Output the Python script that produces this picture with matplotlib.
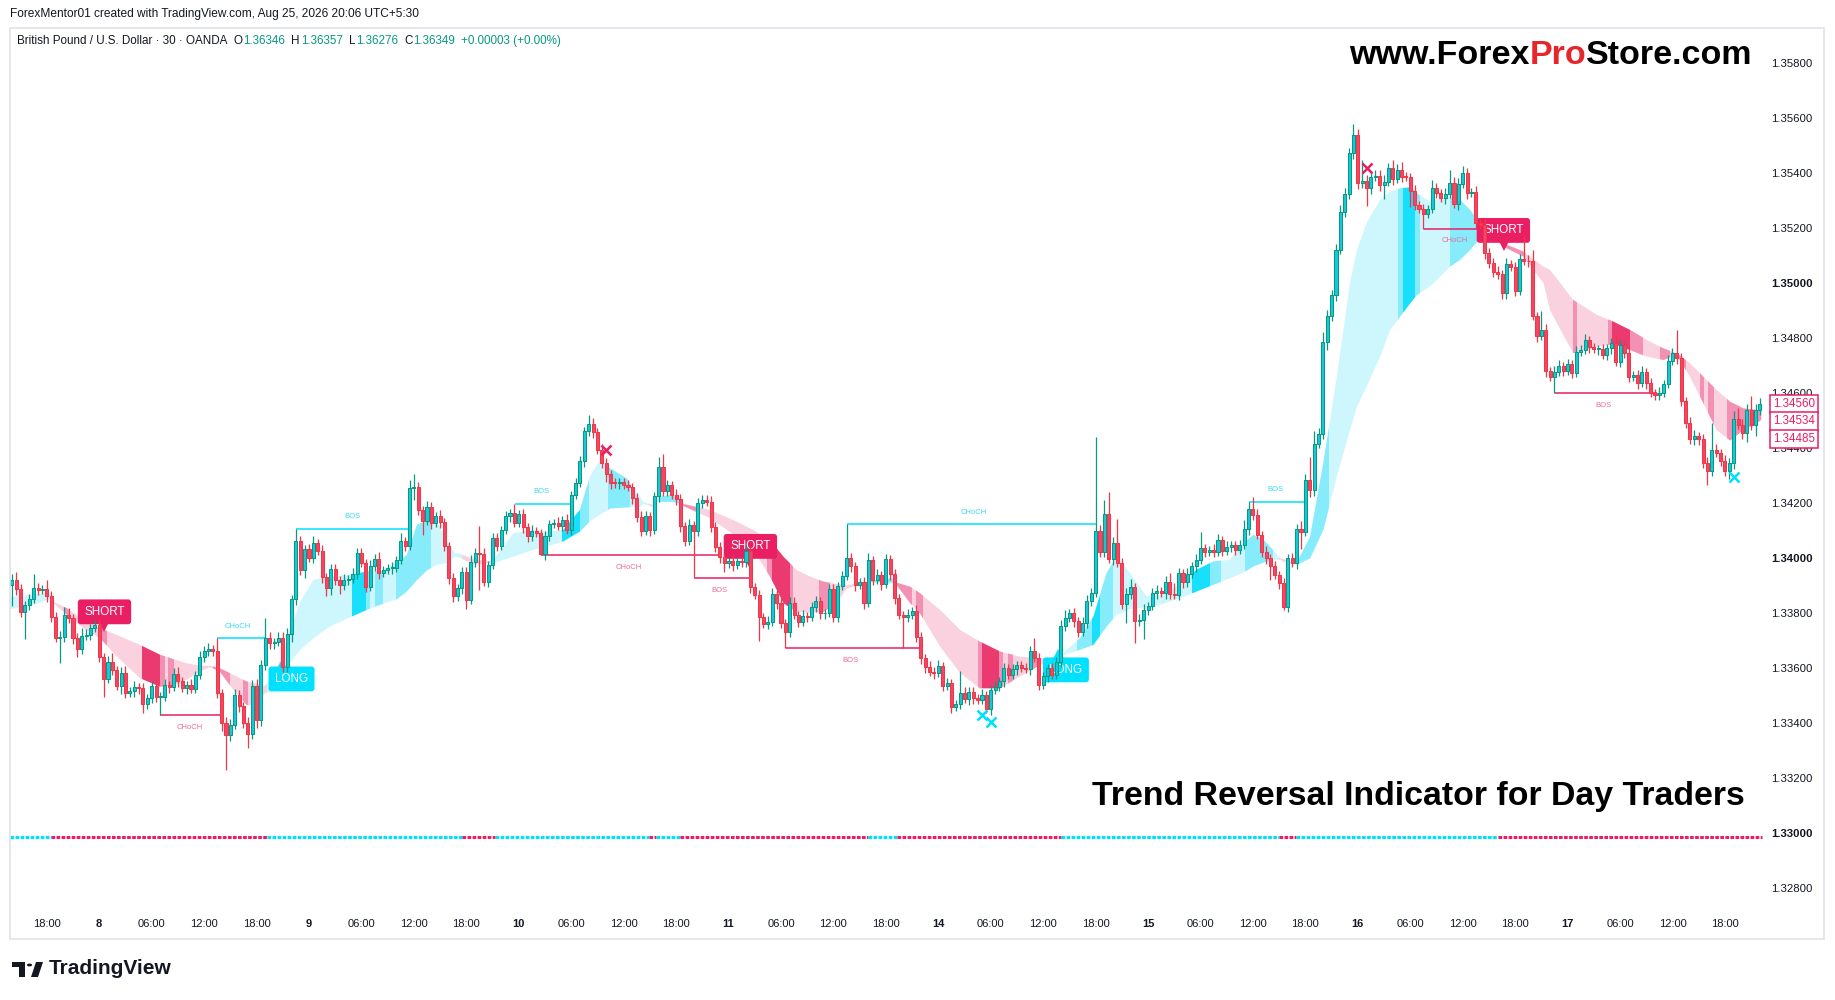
import numpy as np
import matplotlib
matplotlib.use("Agg")
import matplotlib.pyplot as plt
from matplotlib.patches import Rectangle, Polygon, Circle

plt.rcParams['font.family'] = ['Liberation Sans', 'DejaVu Sans']

W, H = 1835, 1000
BASE = 1.33          # all prices below are pips above this level
FIRST_BAR = -8       # bar index of first candle (0 = first "18:00" label)
first_open = 90.2

# 30 min candles, closes in pips over 1.33000
closes = [92, 88.6, 80.5, 83, 85, 89, 88.4, 88.8, 86, 78.7, 70.8, 71.4, 79.3, 78, 70.8, 67, 71.6, 72, 74.4, 75.5,
          64, 56, 62.3, 59.3, 53.5, 58.3, 51, 51.5, 53.2, 52.6, 47, 48.9, 53.4, 49.6, 49.6, 53.9, 53, 57.8, 55.2, 52.6,
          53.9, 52.5, 57.3, 64.1, 66, 67, 66.3, 51, 40, 35.6, 39.3, 50, 46, 40, 36, 53.5, 41, 60.9, 71, 69,
          69.5, 71, 60.5, 72.4, 85, 106, 95.7, 103.2, 100, 105.4, 102.7, 93, 89, 95.9, 92, 90, 92, 92.3, 94.2, 101.7,
          98.1, 89.6, 97.1, 99.6, 94.5, 95.7, 96.3, 96.5, 99.3, 106, 104.5, 125.4, 125.7, 117.5, 113.3, 118.7, 112.7, 115.3, 112.9, 104.2,
          92.7, 86, 89, 94.8, 84.8, 98.7, 101.7, 101.5, 91.4, 97.5, 107.2, 104.5, 110.2, 115.1, 116.3, 112.7, 115.9, 111.2, 107.8, 109.9,
          109, 101.4, 107.8, 112.4, 112.8, 111.7, 113.9, 110.2, 123, 127.2, 135.1, 146, 148.8, 145.7, 139.3, 134.7, 130.6, 127.2, 127.1, 127.7,
          126.5, 125.7, 121.7, 115, 109.9, 115.2, 110.1, 122.5, 132.9, 124.4, 126.5, 122.9, 121.3, 111.6, 106.3, 112, 109.9, 119.8, 121, 120.4,
          111.4, 103.8, 100.2, 98, 99, 97.4, 98.8, 98.6, 102.6, 89.3, 86.5, 78.6, 76, 76.8, 86.9, 83.5, 76.2, 73.2, 83.7, 79.2,
          76.8, 79, 78.6, 82, 84.3, 79.8, 80.1, 88.6, 78.6, 89.8, 93.4, 99.8, 97, 90.1, 91.1, 83.5, 99.2, 92, 93.8, 90.5,
          99.5, 94.1, 85.3, 79.2, 78.6, 79.4, 80.8, 71.4, 63.5, 60.5, 58.7, 58.1, 60.8, 53.5, 54.5, 45.7, 46.9, 51, 48.6, 51.4,
          49, 48.4, 50.2, 45, 52, 53.2, 55.1, 59.9, 57.5, 59.5, 61.1, 59.9, 59.6, 66.3, 63.5, 53.8, 56.9, 59.9, 57.5, 62,
          75.3, 78.1, 79.9, 76.9, 73.2, 76.5, 84.5, 87.4, 109.8, 102.3, 116, 99.5, 105.6, 98.1, 83.3, 86.9, 89.4, 76.9, 77.6, 81.1,
          82.6, 87.2, 88.1, 87.2, 91.4, 86.9, 86.6, 94.4, 91.1, 94.2, 96.9, 99.3, 103.5, 102.3, 102.9, 102.3, 106.6, 102.7, 104.1, 104.7,
          102.9, 104.7, 110.4, 117.7, 115.7, 108.4, 102.3, 99.9, 96.9, 93.8, 90.8, 82.3, 99.9, 98.1, 110.4, 109.6, 128.4, 124.7, 141.5, 145.1,
          178.7, 188, 195.6, 212, 225.9, 232.4, 247.1, 253.8, 236.2, 237.1, 234.4, 238.4, 238.9, 235.6, 236.8, 241.7, 237.7, 241.1, 238.7, 238.4,
          233.6, 228.4, 226.8, 225.1, 226.8, 234.4, 232.8, 230.8, 232.4, 236.5, 228.7, 236, 239.9, 232.6, 233.2, 221.7, 221.1, 210.8, 207.4, 204.1,
          203.3, 196.2, 206.9, 205.7, 197.2, 208.6, 208.1, 207.8, 188, 180.7, 182.9, 167.8, 165.7, 167.7, 169.8, 168.1, 170.5, 167.4, 175, 175.6,
          179.3, 176.6, 175.9, 175.9, 173.8, 176.2, 178.1, 171.4, 177.4, 174.7, 165.9, 166.5, 163.5, 167.7, 163.5, 160.1, 159.3, 160.1, 163.3, 171.7,
          174.4, 172.6, 157.2, 149.2, 143.1, 144.4, 143.1, 134.7, 131.7, 139.3, 138.1, 135.4, 131.7, 134.4, 150.4, 148.4, 145.3, 153.8, 148.4, 153.8, 156]

# wick lengths beyond the body, pips
upper_wicks = [2, 3, 2, 1.5, 2, 5, 2, 1.5, 3, 2, 1.5, 2, 3, 2.5, 1.5, 2, 3, 2, 1.5, 2,
               2, 1.5, 2, 3, 1.5, 2, 2.5, 1.5, 2, 1.5, 2, 1.5, 2, 3, 1.5, 2, 1.5, 2, 2.5, 1.5,
               1.5, 2, 1.5, 2, 2, 2, 1.5, 4.5, 1.5, 2, 2, 2.5, 2, 1.5, 2, 2, 2.5, 2, 7, 2,
               1.5, 2, 2, 2, 1.5, 4.5, 2, 1.5, 2, 2.5, 1.5, 2, 1.5, 2, 2, 1.5, 2, 1.5, 2, 2,
               2, 1.5, 2, 2, 2.5, 1.5, 1.5, 2, 1.5, 3, 1.5, 3, 5, 2, 1.5, 2, 1.5, 1.5, 2, 1.5,
               1.5, 2, 1.5, 2, 2, 2.5, 2, 10, 2, 1.5, 2, 2, 1.5, 2, 1.5, 3.3, 1.5, 2, 1.5, 2,
               1.5, 1.5, 2, 1.5, 1.5, 2, 1.5, 2, 1.5, 2, 2, 1.5, 3, 2, 1.5, 2, 1.5, 1.5, 2, 1.5,
               1.5, 2, 1.5, 2, 2, 2, 1.5, 1.5, 3.7, 5, 2, 1.5, 2, 2, 1.5, 2, 1.5, 2, 2, 2,
               2, 1.5, 2, 1.5, 1.5, 2, 1.5, 1.5, 2, 1.5, 1.5, 2, 1.5, 2, 2, 1.5, 2, 1.5, 2, 2,
               1.5, 2, 1.5, 2, 2, 1.5, 1.5, 2, 2, 1.5, 2, 12.4, 2, 1.5, 1.5, 2, 2.5, 1.5, 2, 1.5,
               2, 1.5, 2, 1.5, 1.5, 2, 1.5, 2, 1.5, 1.5, 2, 1.5, 2, 1.5, 2, 1.5, 1.5, 8, 2, 1.5,
               1.5, 1.5, 2, 1.5, 1.5, 2, 1.5, 2, 1.5, 2, 1.5, 1.5, 2, 1.5, 4.5, 2, 1.5, 1.5, 2, 2,
               2, 3, 1.5, 2, 1.5, 2, 2, 1.5, 34.3, 2, 5.1, 7.8, 2, 8.4, 2, 2, 3, 1.5, 2, 2,
               1.5, 2, 2, 1.5, 2, 3, 4, 2, 1.5, 2, 1.5, 2, 6, 1.5, 1.5, 2, 2, 1.5, 2, 1.5,
               1.5, 2, 3.4, 2.6, 4.6, 2, 1.5, 2, 1.5, 2, 1.5, 2, 1.5, 2, 2, 3, 2, 8.4, 4.5, 2,
               3.6, 2, 2, 2, 2.5, 2, 2, 4, 2, 7.6, 2, 2, 2, 2, 2.5, 2, 3, 2, 3, 1.5,
               1.5, 2, 1.5, 2, 1.5, 3, 2, 1.5, 2, 4.4, 2, 2, 2.5, 2, 1.5, 2, 1.5, 2, 2, 1.5,
               2, 1.5, 2, 1.5, 2, 2, 9, 2, 4, 1.5, 7, 2, 1.5, 2, 2, 1.5, 2, 1.5, 2, 2,
               2, 1.5, 1.5, 1.5, 2, 1.5, 2, 3, 2, 1.5, 2, 1.5, 2, 2, 1.5, 2, 1.5, 2, 1.5, 2,
               2, 8.4, 2, 1.5, 2, 2, 1.5, 2, 2, 9.7, 2, 1.5, 2, 2, 3, 4, 2, 2, 5, 2, 2]

lower_wicks = [7.6, 2, 2, 10, 2, 1.5, 2, 1.5, 2, 2, 1.5, 9, 2, 1.5, 2, 3, 2, 1.5, 2, 1.5,
               2, 6.4, 1.5, 2, 1.5, 3, 2, 1.5, 2, 2, 3.5, 2, 1.5, 2, 6.8, 1.5, 2, 1.5, 2, 1.5,
               2, 1.5, 1.5, 1.5, 2, 1.5, 2, 2, 3, 12.6, 2, 1.5, 2, 2, 5.2, 2, 3, 2, 1.5, 2,
               2, 1.5, 2, 2, 3, 2, 2, 3, 1.5, 2, 1.5, 2, 3, 2.5, 2, 3, 1.5, 2, 1.5, 2,
               1.5, 2, 1.5, 2, 2, 1.5, 1.5, 2, 1.5, 1.5, 2, 1.5, 4.5, 2, 5, 1.5, 2, 1.5, 2, 1.5,
               2, 2, 1.5, 2, 3.4, 1.5, 2, 13, 1.5, 2, 1.5, 2, 1.5, 1.5, 2, 1.5, 1.5, 2, 2, 1.5,
               1.5, 0.5, 2, 1.5, 1.5, 1.5, 2, 1.5, 2, 1.5, 1.5, 2, 1.5, 2, 1.5, 2, 3, 2, 1.5, 2,
               1.5, 1.5, 2, 2, 2, 1.5, 2, 1.5, 2, 2, 2, 1.5, 2, 2, 2, 1.5, 17, 2, 1.5, 1.5,
               2, 1.5, 2, 3, 1.5, 2, 1.5, 2, 2, 2, 1.5, 8.7, 1.5, 2, 1.5, 2, 1.5, 6, 2, 1.5,
               2, 1.5, 2, 1.5, 1.5, 2, 2, 1.5, 2, 2, 1.5, 1.5, 2, 2, 1.5, 2, 1.5, 2, 1.5, 2,
               1.5, 2, 2, 1.5, 11.5, 2, 1.5, 2, 2, 2.5, 1.5, 2, 1.5, 2, 1.5, 2.2, 1.5, 2, 1.5, 2,
               2, 1.5, 1.5, 1.5, 2, 1.5, 1.5, 2, 1.5, 1.5, 2, 1.5, 1.5, 2, 1.5, 2, 1.5, 2, 1.5, 1.5,
               1.5, 2, 1.5, 2, 2, 1.5, 2, 2, 1.5, 2, 2, 1.5, 2, 1.5, 2, 7, 2, 8, 1.5, 6.9,
               2, 1.5, 2, 1.5, 2, 2, 1.5, 2, 2, 1.5, 1.5, 2, 1.5, 2, 1.5, 2, 1.5, 2, 1.5, 2,
               2, 1.5, 1.5, 2, 2, 1.5, 2, 2, 4.9, 1.5, 2, 1.2, 2, 1.5, 2, 6.5, 1.5, 2.4, 2, 1.5,
               2, 3, 2, 2, 1.5, 2, 2, 2, 2, 1.5, 6.6, 2, 1.5, 2, 5, 1.5, 2, 1.5, 2, 1.5,
               6, 2, 1.5, 5.6, 1.5, 1.5, 2, 1.5, 2, 1.5, 1.5, 2, 1.5, 2, 1.5, 2, 1.5, 2, 2, 2,
               2, 2, 2, 1.5, 2, 1.5, 1.5, 2, 1.5, 2, 1.5, 2, 1.5, 5.8, 1.5, 2, 1.5, 2, 1.5, 1.5,
               1.5, 2, 1.5, 2, 1.5, 2, 2, 1.5, 2, 2, 2, 1.5, 2, 1.5, 2, 1.5, 2, 2, 1.5, 1.5,
               1.5, 2, 2, 2, 1.5, 2, 2, 2, 5.2, 2, 1.5, 2, 2, 3, 2, 1.5, 2, 3, 2, 4, 2]

# trend ribbon outline (bar index, upper edge, lower edge in pips)
band_x = [-8.4, -3.8, 0.7, 1.5, 4.6, 8.4, 12.2, 16, 21.3, 25.9, 29, 32, 35, 37.4, 39.6, 42.7, 45.7, 48, 49.9,
          51.8, 53.4, 55.7, 58, 61, 64.8, 69.8, 73.2, 76.3, 80.1, 82.4, 84.7, 87, 89.3, 91.5, 93.4,
          94.6, 97.6, 100.7,
          102.2, 106.8, 111.4, 114.4, 118.2, 122, 124.3, 126.6, 128.9, 132.7, 135.8,
          136.5, 138.8,
          140.3, 143.4, 145.3,
          145.7, 151.8, 157.9, 161.7, 165.5, 168.6, 171.6, 174.7, 177.7, 180.8, 183, 188.4,
          193.4,
          194.5, 197.6, 199.8, 204.4, 209, 213.5, 218.1, 222.7, 227.3, 231.8,
          232.6, 236.4, 239.5, 242.5, 244.8, 247.9, 251.7, 254.7, 259.3, 263.1, 266.9, 270.7, 273.8, 276.1, 278.4, 280.6, 282.2,
          283.5,
          286, 289.1, 292.1, 295.2, 298.2, 299.8, 302, 305.1, 307.4, 309.7, 312, 313.5, 316.5, 318.8, 321.1, 323.4, 325.7, 328, 330.5,
          333.3, 337.9, 342.5, 344, 349.3, 354.7, 358.5, 362.3, 366.1, 369.9, 373, 376, 379.1, 382.1, 385.2, 388.2, 391.3, 392.3]
band_hi = [85.7, 86.6, 87.2, 84.1, 81.7, 77.5, 74.5, 72, 68.4, 64.8, 63.2, 61.7, 60.8, 60.8, 59.9, 57.5, 55.1, 54.2, 53.5,
           56.9, 63, 74, 84, 92, 93.3, 93.9, 95.1, 95.1, 98.1, 101.1, 112, 113.6, 112.9, 106.6, 101.7,
           101.5, 99.6, 98.7,
           99.3, 109, 110.2, 109.6, 110.2, 117.5, 129.6, 135.7, 132.6, 128.9, 122.3,
           120.4, 119.2,
           122.3, 122.9, 121,
           119.6, 117.4, 113.2, 110.1, 106.5, 100.4, 95.6, 93.2, 91.4, 90.5, 90.1, 91.6,
           92.6,
           91, 89.5, 87.2, 81.1, 73.8, 69.6, 66, 64.1, 63.5, 63.9,
           65.4, 70.8, 78.7, 94.4, 100.5, 94.4, 86, 86.6, 90.2, 95.7, 98.7, 99.3, 105.4, 108.4, 106.6, 102.9, 99.9,
           99.3,
           98.1, 107.8, 134.4, 165.9, 199.9, 212, 221.7, 230.2, 233.2, 234.4, 234.8, 232.6, 229.6, 230.8, 231.1, 230.2, 226.5, 221.7, 218.5,
           214.4, 211.4, 205.9, 204.7, 193.8, 188.4, 185.9, 182.9, 179.3, 176.2, 174.4, 170.8, 165.9, 161.1, 156.8, 154.4, 153.8, 153.2]
band_lo = [81.4, 82.6, 85, 83.5, 79.3, 74.5, 70.8, 64.2, 56.3, 53.2, 53.5, 55.7, 58.7, 60.3, 58.7, 52, 46.6, 46, 50.8,
           51.4, 55.6, 62, 66.6, 70.8, 75.1, 78.7, 81.1, 83, 85, 87.8, 92, 95.5, 97.5, 98.1, 100.5,
           100, 97.5, 98.1,
           98.1, 100.5, 103, 104.2, 106, 109.6, 113.3, 115.7, 118, 118.4, 118.6,
           119.6, 118.6,
           120.4, 120.4, 119.6,
           118.9, 114.4, 107.7, 102.9, 93.2, 83.5, 80.4, 80.1, 80.4, 83.5, 88.9, 91.2,
           91,
           90.1, 83.5, 79.9, 67.8, 58.1, 52.6, 52.6, 56.9, 61.1, 63.5,
           64.6, 66.6, 68.4, 75, 79.3, 81.4, 82.1, 82.9, 85.4, 87.8, 90.2, 92.6, 94.7, 96.9, 98.3, 99.3, 99.3,
           98.3,
           97.5, 99.9, 110.2, 129.6, 146.5, 155, 162.3, 173.2, 182.9, 187.8, 192.6, 195.6, 198.7, 202.3, 205.9, 208.4, 212, 216.2, 217.5,
           213.2, 209.6, 199.9, 190, 174.4, 176.8, 177.8, 175.6, 173.2, 172, 173.8, 165.9, 156.2, 146.5, 142.7, 146.5, 149, 150.2]

# trend state (1 = long / cyan, -1 = short / pink) between these bar edges
trend_edges = [-8.4, 1, 50.4, 95, 102.6, 137.8, 139.4, 145, 187.9, 194.5, 232, 282, 285.8, 332, 393]
trend_dirs = [1, -1, 1, -1, 1, -1, 1, -1, 1, -1, 1, -1, 1, -1]
trend_dot_level = -1.5   # pips, the dotted state line just under 1.33000

# darker ribbon slices: (from bar, to bar, level 1 = medium, 2 = strong)
shade_spans = [(4, 5, 1), (12.2, 13.7, 1), (21.7, 25.9, 2), (26, 27, 1), (27.8, 29, 1), (38.1, 42, 1), (45, 46, 1),
               (69.8, 73.1, 2), (73.1, 74, 1), (75, 77, 1), (80, 88, 1),
               (117.9, 122, 2), (122, 124, 1), (128.5, 133.5, 1), (140, 145, 1),
               (145.5, 148.7, 1), (164.7, 165.9, 1), (165.9, 170.1, 2), (170.1, 170.8, 1), (176.6, 179.2, 1),
               (188, 194, 1),
               (194.5, 198, 1), (199, 200.6, 1), (213, 214, 1), (214, 218, 2), (218, 218.8, 1), (220, 221, 1), (225.7, 227.3, 1),
               (235.7, 239.1, 1), (239.1, 241, 2), (241, 244, 1), (262, 266.2, 2), (266.2, 268.8, 1), (274.2, 280.6, 1),
               (286, 293.3, 1), (309.3, 310.4, 1), (310.4, 313.1, 2), (313.1, 314.2, 1), (321.1, 330, 1),
               (333, 338, 1), (349.3, 350.1, 1), (357.3, 358.1, 1), (358.1, 362.3, 2), (362.3, 365.3, 1),
               (369.1, 371.4, 1), (372.5, 375, 1), (378.3, 379.1, 1), (380.2, 381.4, 1), (384.4, 393, 1)]

# market structure lines: (from bar, to bar, level, direction, text, text bar, text level)
structure = [(39, 50, 70.8, 1, 'CHoCH', 43.8, 75.1),
             (57, 82.8, 110.5, 1, 'BOS', 70, 115.1),
             (107.2, 119.8, 119.6, 1, 'BOS', 113.1, 124.2),
             (183.2, 240.2, 112.2, 1, 'CHoCH', 212, 116.5),
             (275.2, 288, 120.3, 1, 'BOS', 281.2, 125),
             (26, 39.6, 42.8, -1, 'CHoCH', 32.6, 38.5),
             (113.1, 154.1, 101, -1, 'CHoCH', 133.1, 96.6),
             (148.2, 161, 92.7, -1, 'BOS', 154, 88.1),
             (169.1, 199.8, 67.1, -1, 'BOS', 184, 62.6),
             (315.2, 328.4, 219.5, -1, 'CHoCH', 322.1, 215.4),
             (345.2, 368.4, 159.9, -1, 'BOS', 356.2, 155.4)]

# signal labels: (text, bar, level, pointer bar)
signals = [('SHORT', 13.2, 80.4, 13), ('LONG', 56, 56, 53.8), ('SHORT', 161, 104.2, 160.7),
           ('LONG', 233.2, 59.3, 231.5), ('SHORT', 333.3, 219.1, 333.4)]
x_marks_pink = [(128, 139.3), (302.1, 241.8)]
x_marks_cyan = [(213.9, 42.9), (216, 40.5), (386.1, 129.3)]

time_labels = ['18:00', '8', '06:00', '12:00', '18:00', '9', '06:00', '12:00', '18:00', '10', '06:00', '12:00',
               '18:00', '11', '06:00', '12:00', '18:00', '14', '06:00', '12:00', '18:00', '15', '06:00', '12:00',
               '18:00', '16', '06:00', '12:00', '18:00', '17', '06:00', '12:00', '18:00']
price_ticks = [1.328, 1.330, 1.332, 1.334, 1.336, 1.338, 1.340, 1.342, 1.344, 1.346,
               1.348, 1.350, 1.352, 1.354, 1.356, 1.358]
price_tags = ['1.34560', '1.34534', '1.34485']

CYAN = '#00e0ff'
PINK = '#e91e63'
LIGHT = {1: '#cdf6fd', -1: '#fad2df'}
MED = {1: '#86ecfc', -1: '#f291b4'}
STRONG = {1: '#17dffc', -1: '#ea3a6f'}
DARK = '#131722'
TEAL = '#089981'


def P(v):
    return BASE + np.asarray(v, dtype=float) / 10000.0


def trend_at(x):
    for k in range(len(trend_dirs)):
        if trend_edges[k] <= x < trend_edges[k + 1]:
            return trend_dirs[k]
    return trend_dirs[-1]


fig = plt.figure(figsize=(W / 100, H / 100), dpi=100)
fig.patch.set_facecolor('white')
ax = fig.add_axes([10 / W, 1 - 905 / H, 1756 / W, 877 / H])
ax.set_xlim(-8.42, 393.4)
ax.set_ylim(P(-26.2), P(292.7))
for s in ax.spines.values():
    s.set_visible(False)

# ribbon
verts = list(zip(band_x, P(band_hi))) + list(zip(band_x[::-1], P(band_lo[::-1])))
clip = Polygon(verts, closed=True, fc='none', ec='none')
ax.add_patch(clip)
for k, d in enumerate(trend_dirs):
    r = ax.axvspan(trend_edges[k], trend_edges[k + 1], color=LIGHT[d], lw=0, zorder=1, antialiased=False)
    r.set_clip_path(clip)
for a, b, lvl in shade_spans:
    d = trend_at((a + b) / 2)
    r = ax.axvspan(a, b, color=(MED if lvl == 1 else STRONG)[d], lw=0, zorder=1.1, antialiased=False)
    r.set_clip_path(clip)

# trend dots along 1.33000
for k, d in enumerate(trend_dirs):
    ax.hlines(P(trend_dot_level), trend_edges[k], min(trend_edges[k + 1], 392.5), colors=CYAN if d == 1 else PINK,
              linestyles=(0, (1.2, 0.45)), lw=2.2, zorder=2)

# structure lines
for x0, x1, lev, d, txt, tx, ty in structure:
    col = CYAN if d == 1 else PINK
    ax.hlines(P(lev), x0, x1, colors=col, lw=1.1, zorder=2)
    ax.text(tx, P(ty), txt, color='#3fd8f2' if d == 1 else '#ee6b96', fontsize=5.5,
            ha='center', va='center', zorder=2)

# signal labels
for txt, bx, lev, px in signals:
    col = PINK if txt == 'SHORT' else CYAN
    ax.text(bx, P(lev), txt, color='white', fontsize=8.4, ha='center', va='center', zorder=3,
            bbox=dict(boxstyle='round,pad=0.55,rounding_size=0.25', fc=col, ec='none'))
    if txt == 'SHORT':
        ax.plot(px, P(lev - 5.6), marker='v', ms=7, color=col, mew=0, zorder=3)
    else:
        ax.plot(px, P(lev + 5.6), marker='^', ms=7, color=col, mew=0, zorder=3)

# candles
n = min(len(closes), len(upper_wicks), len(lower_wicks))
c = np.array(closes[:n], dtype=float)
o = np.r_[first_open, c[:-1]]
idx = np.arange(n) + FIRST_BAR
hi = np.maximum(o, c) + np.array(upper_wicks[:n])
lo = np.minimum(o, c) - np.array(lower_wicks[:n])
up = c >= o
edge = np.where(up, TEAL, '#f23645')
face = np.where(up, '#16c8db', '#f2476a')
ax.vlines(idx, P(lo), P(hi), colors=edge, lw=0.9, zorder=4)
body_lo = np.minimum(o, c)
body_h = np.maximum(np.abs(c - o), 0.35)
ax.bar(idx, body_h / 10000.0, bottom=P(body_lo), width=0.7, color=face, edgecolor=edge,
       linewidth=0.75, zorder=4.5)

# x markers
for (mx, my) in x_marks_pink:
    ax.plot(mx, P(my), marker='x', ms=6.5, mew=1.8, color=PINK, zorder=5)
for (mx, my) in x_marks_cyan:
    ax.plot(mx, P(my), marker='x', ms=6.5, mew=1.8, color=CYAN, zorder=5)

# axes ticks
ax.set_xticks(np.arange(len(time_labels)) * 12)
ax.set_xticklabels(time_labels)
ax.tick_params(axis='x', length=0, pad=10, labelsize=8, labelcolor=DARK)
for lab in ax.get_xticklabels():
    if ':' not in lab.get_text():
        lab.set_fontweight('bold')
ax.yaxis.tick_right()
ax.set_yticks(P((np.array(price_ticks) - BASE) * 10000))
ax.set_yticklabels([f'{p:.5f}' for p in price_ticks])
ax.tick_params(axis='y', length=0, pad=3.6, labelsize=8.2, labelcolor=DARK)
for lab in ax.get_yticklabels():
    if lab.get_text() in ('1.35000', '1.34000', '1.33000'):
        lab.set_fontweight('bold')

# chart frame
fig.add_artist(Rectangle((10 / W, 1 - 939 / H), 1814 / W, 911 / H, transform=fig.transFigure,
                         fill=False, ec='#e0e3eb', lw=1.2))

# price tags on the scale
for k, t in enumerate(price_tags):
    fig.text(1794 / W, 1 - (404 + 17.5 * k) / H, t, color=PINK, fontsize=8.4, ha='center', va='center',
             bbox=dict(boxstyle='square,pad=0.26', fc='white', ec=PINK, lw=1.1), zorder=6)

renderer = fig.canvas.get_renderer()


def put_row(x, y, parts, size, weight='normal'):
    for s, col, gap in parts:
        t = fig.text(x / W, 1 - y / H, s, color=col, fontsize=size, fontweight=weight, ha='left', va='center')
        x += t.get_window_extent(renderer).width + gap


fig.text(10 / W, 1 - 14 / H, 'ForexMentor01 created with TradingView.com, Aug 25, 2026 20:06 UTC+5:30',
         color=DARK, fontsize=8.6, ha='left', va='center')
put_row(17, 41, [('British Pound / U.S. Dollar · 30 · OANDA', DARK, 6), ('O', DARK, 1), ('1.36346', TEAL, 6),
                 ('H', DARK, 1), ('1.36357', TEAL, 6), ('L', DARK, 1), ('1.36276', TEAL, 6),
                 ('C', DARK, 1), ('1.36349', TEAL, 6), ('+0.00003 (+0.00%)', TEAL, 0)], 8.4)
put_row(1349, 56, [('www.Forex', 'black', 0), ('Pro', '#e5262b', 0), ('Store.com', 'black', 0)], 24.5, 'bold')
fig.text(1092 / W, 1 - 796 / H, 'Trend Reversal Indicator for Day Traders', color='black', fontsize=24.4,
         fontweight='bold', ha='left', va='center')

# TradingView logo
logo = [Rectangle((12 / W, 1 - 967 / H), 13 / W, 5 / H),
        Rectangle((19 / W, 1 - 977 / H), 6 / W, 15 / H),
        Polygon([(31 / W, 1 - 977 / H), (36 / W, 1 - 962 / H), (43 / W, 1 - 962 / H), (38 / W, 1 - 977 / H)])]
for pch in logo:
    pch.set_transform(fig.transFigure)
    pch.set_facecolor(DARK)
    pch.set_edgecolor('none')
    fig.add_artist(pch)
fig.add_artist(Circle((29.5 / W, 1 - 965 / H), 2.6 / W, transform=fig.transFigure, fc=DARK, ec='none'))
fig.text(49 / W, 1 - 969 / H, 'TradingView', color=DARK, fontsize=15, fontweight='bold', ha='left', va='center')

fig.savefig('out.png', dpi=100, facecolor='white')
